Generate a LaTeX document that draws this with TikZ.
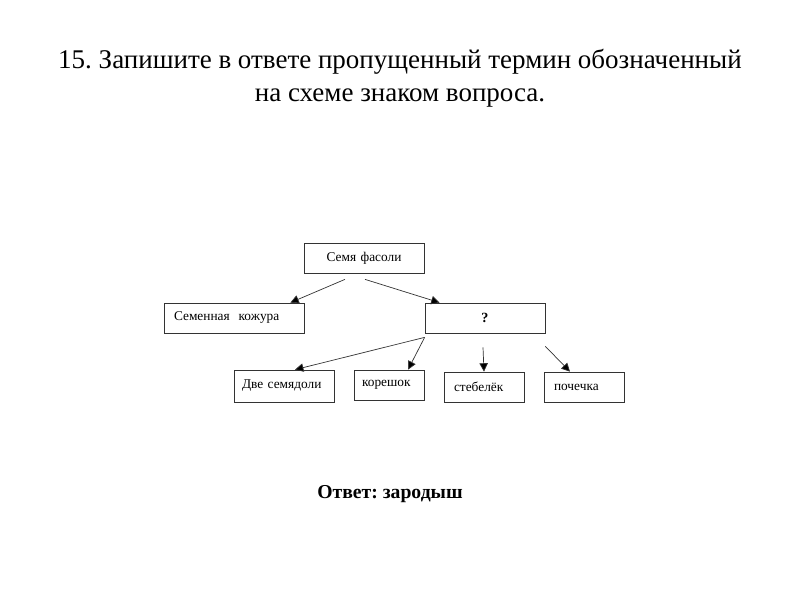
\documentclass[tikz,border=0pt]{standalone}
\usepackage{fontspec}
\setmainfont{Liberation Serif}
\usetikzlibrary{arrows.meta}
\frenchspacing

\begin{document}
\begin{tikzpicture}[
    termbox/.style={draw=black!80, line width=0.5pt, minimum height=0.75cm,
      inner xsep=0.25cm, align=left, font=\fontsize{9.5}{11}\selectfont},
    arr/.style={draw=black!80, line width=0.5pt, -{Triangle[length=6pt,width=6pt,fill=black]}}
  ]
    \useasboundingbox (0,0) rectangle (20,-15);

    % Task text
    \node[align=center, font=\fontsize{19.2}{23.5}\selectfont] (task) at (10,-1.96)
      {15. Запишите в ответе пропущенный термин обозначенный\\на схеме знаком вопроса.};

    % Boxes
    \node[termbox, text width=2.5cm, align=center] (seed) at (9.1,-6.45) {Семя фасоли};
    \node[termbox, text width=3cm] (coat) at (5.85,-7.95) {Семенная~~кожура};
    \node[termbox, text width=2.5cm, align=center, font=\fontsize{10}{12}\selectfont\bfseries] (embryo) at (12.125,-7.95) {?};
    \node[termbox, text width=2.1cm, inner xsep=0.2cm, minimum height=0.8cm] (cotyl) at (7.1,-9.65) {Две семядоли};
    \node[termbox, text width=1.35cm, inner xsep=0.2cm] (root) at (9.725,-9.625) {корешок};
    \node[termbox, text width=1.5cm] (stem) at (12.1,-9.675) {стебелёк};
    \node[termbox, text width=1.5cm] (bud) at (14.6,-9.675) {почечка};

    % Arrows
    \draw[arr] ([xshift=-0.475cm,yshift=-0.15cm]seed.south) -- ([xshift=-0.35cm]coat.north east);
    \draw[arr] ([xshift=0.025cm,yshift=-0.15cm]seed.south) -- ([xshift=0.375cm]embryo.north west);
    \draw[arr] ([yshift=-0.1cm]embryo.south west) -- ([xshift=0.275cm]cotyl.north);
    \draw[arr] ([yshift=-0.1cm]embryo.south west) -- ([xshift=0.475cm]root.north);
    \draw[arr] ([xshift=-0.05cm,yshift=-0.35cm]embryo.south) -- (stem.north);
    \draw[arr] ([yshift=-0.325cm]embryo.south east) -- ([xshift=-0.35cm]bud.north);

    % Answer
    \node[font=\fontsize{14}{16}\selectfont\bfseries] (answer) at (9.75,-12.35) {Ответ: зародыш};
  \end{tikzpicture}
\end{document}
